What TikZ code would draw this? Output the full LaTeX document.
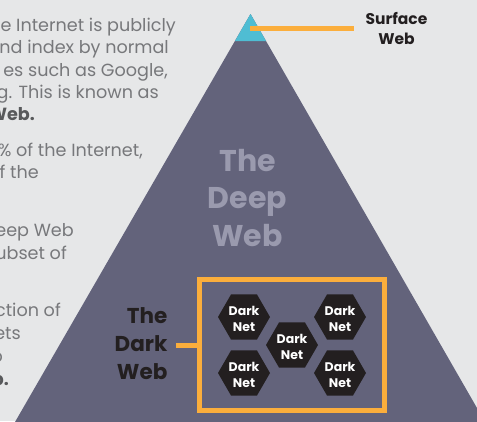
\documentclass[tikz,border=0pt]{standalone}
\usepackage{fontspec}
\setmainfont{Poppins}
\definecolor{bgc}{HTML}{E6E7E8}
\definecolor{slatec}{HTML}{63637B}
\definecolor{cyanc}{HTML}{4FBDD3}
\definecolor{orangec}{HTML}{FBAE3C}
\definecolor{hexc}{HTML}{231F20}
\definecolor{bodyc}{HTML}{77787B}
\definecolor{boldc}{HTML}{58595B}
\definecolor{deepc}{HTML}{9A9AAE}
\tikzset{
  bodyline/.style={anchor=base east,text=bodyc,font=\fontsize{17.6}{20}\selectfont,inner sep=0pt},
  bodybold/.style={bodyline,font=\fontsize{17.6}{20}\selectfont\bfseries,text=boldc},
  darknet/.style={regular polygon,regular polygon sides=6,fill=hexc,draw=none,minimum size=52pt,inner sep=0pt},
  hextext/.style={text=white,align=center,font=\fontsize{12.5}{16}\selectfont\bfseries,inner sep=0pt},
  orangeline/.style={draw=orangec,line width=5pt},
  biglabel/.style={align=center,inner sep=0pt,font=\fontsize{30}{37.5}\selectfont\bfseries},
}
\usetikzlibrary{shapes.geometric}
\begin{document}
\begin{tikzpicture}[x=1pt,y=-1pt]
\useasboundingbox (0,0) rectangle (477,421);
\fill[bgc] (0,0) rectangle (477,421);
\begin{scope}
\clip (0,0) rectangle (477,421);
\fill[slatec] (250.5,14) -- (500,448) -- (0,448) -- cycle;
\fill[cyanc] (250.5,14) -- (266,41) -- (235,41) -- cycle;
\end{scope}
\coordinate (sl) at (250,28.7);
\coordinate (dl) at (176,345);
\node[anchor=center,align=center,inner sep=0pt,font=\fontsize{15.5}{20}\selectfont\bfseries,text=hexc] (surf) at (396.5,28) {Surface\\Web};
\coordinate (sr) at (354,28.7);
\draw[orangeline] (sl) -- (sr);
\node[bodyline] (t1) at (176,31) {e Internet is publicly};
\node[bodyline] (t2) at (169,53) {nd index by normal};
\node[bodyline] (t3) at (168,76) {es such as Google,};
\node[bodyline] (t4) at (159,98) {g. This is known as};
\node[bodybold] (t5) at (35,120.5) {Web.};
\node[bodyline] (t6) at (143,156) {\% of the Internet,};
\node[bodyline] (t7) at (39,178) {f the};
\node[bodyline] (t8) at (74,236.5) {eep Web};
\node[bodyline] (t9) at (67,259) {ubset of};
\node[bodyline] (t10) at (61,316.5) {ction of};
\node[bodyline] (t11) at (21,339.5) {ets};
\node[bodyline] (t12) at (3,362) {o};
\node[bodybold] (t13) at (9,385) {b.};
\node[biglabel,text=deepc] (deep) at (247.5,198) {The\\Deep\\Web};
\node[draw=orangec,line width=5pt,minimum width=185pt,minimum height=131pt,inner sep=0pt] (box) at (292,345) {};
\node[biglabel,text=hexc,font=\fontsize{21.5}{28}\selectfont\bfseries,align=right] (dark) at (141,343.5) {The\\Dark\\Web};
\draw[orangeline] (dl) -- (box.west |- dl);
\foreach \n/\x/\y in {a/244/317,b/340/317,c/292/345,d/244/373,e/340/373}{
  \node[darknet] (h\n) at (\x,\y) {};
  \node[hextext] at ([yshift=-1.5pt]h\n.center) {Dark\\Net};
}
\end{tikzpicture}
\end{document}
